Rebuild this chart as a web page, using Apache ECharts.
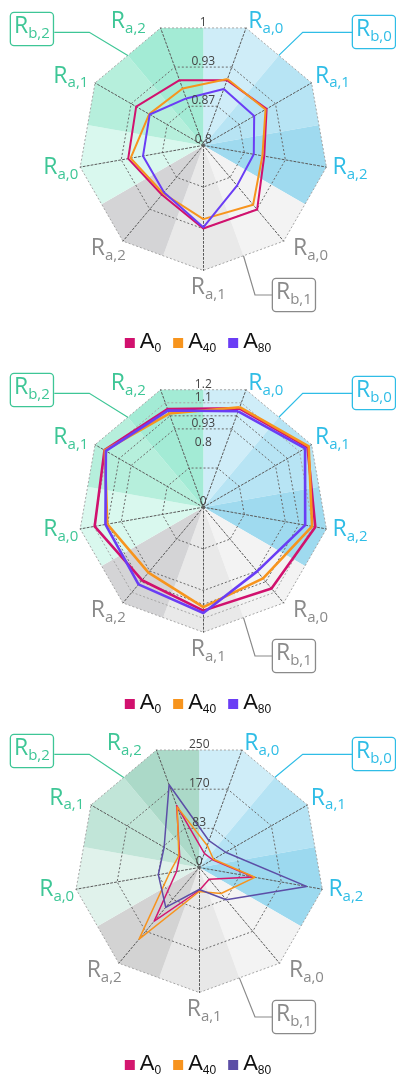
<!DOCTYPE html>
<html>
<head>
<meta charset="utf-8">
<title>Radar comparison</title>
<script src="https://cdn.jsdelivr.net/npm/echarts@6.0.0/dist/echarts.min.js"></script>
<style>
  html, body { margin: 0; padding: 0; background: #ffffff; overflow: hidden; }
  .panel { width: 396px; height: 361px; }
</style>
</head>
<body>
<div id="p1" class="panel"></div>
<div id="p2" class="panel"></div>
<div id="p3" class="panel"></div>
<script>
// Axes listed clockwise from the upper right: three R_a axes in each R_b group
const axisSubs   = ['a,0', 'a,1', 'a,2', 'a,0', 'a,1', 'a,2', 'a,0', 'a,1', 'a,2'];
const axisGroups = [0, 0, 0, 1, 1, 1, 2, 2, 2];
const groupSubs  = ['b,0', 'b,1', 'b,2'];
const seriesNames = ['A0', 'A40', 'A80'];
const seriesSubs  = ['0', '40', '80'];

// Panel 1 (radial scale 0.8 – 1)
const p1A0  = [0.911, 0.917, 0.899, 0.934, 0.933, 0.903, 0.922, 0.924, 0.911];
const p1A40 = [0.913, 0.915, 0.896, 0.924, 0.918, 0.900, 0.918, 0.900, 0.897];
const p1A80 = [0.896, 0.894, 0.882, 0.884, 0.931, 0.898, 0.898, 0.899, 0.880];
const p1Ticks = [0.8, 0.8667, 0.9333, 1];

// Panel 2 (radial scale 0 – 1.2, outer half stretched)
const p2A0  = [1.073, 1.170, 1.128, 1.079, 1.062, 1.010, 1.106, 1.130, 1.069];
const p2A40 = [1.081, 1.179, 1.107, 0.995, 1.040, 0.946, 1.024, 1.128, 1.038];
const p2A80 = [1.053, 1.152, 1.062, 0.936, 1.077, 1.045, 1.036, 1.120, 1.059];
const p2Ticks = [0, 0.8, 0.9333, 1.1111, 1.2];

// Panel 3 (radial scale 0 – 250)
const p3A0  = [30, 31, 110, 31, 46, 140, 46, 45, 132];
const p3A40 = [47, 33, 113, 68, 48, 187, 60, 47, 129];
const p3A80 = [57, 61, 218, 84, 44, 104, 83, 81, 176];
const p3Ticks = [0, 83.33, 166.67, 250];

// ---- layout / style ----
const FONT = "'Open Sans', 'Noto Sans', sans-serif";
const LEGEND_FONT = "'Liberation Sans', Arial, sans-serif";
const R = 125;
const HALF = 20;                                   // half of a 40° sector
const COS_HALF = Math.cos(HALF * Math.PI / 180);   // edge midpoint / vertex radius
const axisAngle = i => 70 - 40 * i;                // math angle of clockwise axis i
const ccw = [0, 8, 7, 6, 5, 4, 3, 2, 1];           // radar lays indicators counterclockwise

// axis-name centre, relative to the polygon vertex it belongs to (px)
const nameOffsets = [[19.8, -4.7], [20.9, -5.4], [23.6, 2.1], [26.9, 9.1], [5, 18.8],
                     [-14.7, 9.1], [-19.4, 2.1], [-24.2, -5.4], [-32.2, -4.7]];

const NONE = 'rgba(0,0,0,0)', DARK = '#6a6a6a', LIGHT = '#a6a6a6';
const labelColors = ['#2fbde6', '#8a8a8a', '#3ec696'];
const wedgesA = ['#cfedf8', '#b7e4f4', '#9fdaef', '#f3f3f3', '#e9e9e9', '#d4d4d6', '#d9f8ee', '#b6efdc', '#a3ebd5'];
const wedgesB = ['#cfedf8', '#b5e3f4', '#9cd9ef', '#f3f3f3', '#e8e8e8', '#d3d3d3', '#e0f2eb', '#c1e5d8', '#abd9c8'];

const callouts = [
  { g: 0, angle: 50,  knee: [302.7, 32.3], end: 353,  box: [353, 16] },
  { g: 1, angle: -70, knee: [255, 295],    end: 273,  box: [273, 279] },
  { g: 2, angle: 130, knee: [89.3, 32.3],  end: 54.3, box: [11, 13] }
];

const p2Radial = v => 9 * (v <= 0.8 ? v / 1.6 : 0.5 + (v - 0.8) * 1.25);

const panels = [
  { el: 'p1', center: [203.3, 145.4], min: 0.8, max: 1, split: 3, map: v => v, ticks: p1Ticks,
    series: [p1A0, p1A40, p1A80], colors: ['#d1116e', '#f7941d', '#6a3df5'], lineWidth: 2,
    rings: [NONE, DARK, DARK, LIGHT], wedges: wedgesA },
  { el: 'p2', center: [203.3, 146.2], min: 0, max: 9, split: 9, map: p2Radial, ticks: p2Ticks,
    series: [p2A0, p2A40, p2A80], colors: ['#d1116e', '#f7941d', '#6a3df5'], lineWidth: 2.6,
    rings: [NONE, NONE, NONE, DARK, NONE, NONE, DARK, DARK, LIGHT, LIGHT], wedges: wedgesA },
  { el: 'p3', center: [199.2, 145.5], min: 0, max: 250, split: 3, map: v => v, ticks: p3Ticks,
    series: [p3A0, p3A40, p3A80], colors: ['#d4176f', '#f7931e', '#5c4ea6'], lineWidth: 1.5,
    rings: [NONE, DARK, DARK, LIGHT], wedges: wedgesB }
];

const tickLabel = t => String(Number(t.toPrecision(2)));

// "R" with a subscript, as zrender rich-text styles
function subRich(color) {
  return {
    R: { fontFamily: FONT, fontSize: 23, lineHeight: 26, verticalAlign: 'top', padding: [0, 0, 7, 0], fill: color },
    s: { fontFamily: FONT, fontSize: 15, lineHeight: 15, verticalAlign: 'bottom', fill: color }
  };
}

function panelOption(cfg) {
  const [cx, cy] = cfg.center;
  const frac = v => (cfg.map(v) - cfg.min) / (cfg.max - cfg.min);

  const graphics = [];
  callouts.forEach(co => {
    const a = co.angle * Math.PI / 180;
    const start = [cx + R * COS_HALF * Math.cos(a), cy - R * COS_HALF * Math.sin(a)];
    const col = labelColors[co.g];
    graphics.push({
      type: 'polyline', silent: true, z: 100,
      shape: { points: [start, co.knee, [co.end, co.knee[1]]] },
      style: { stroke: col, lineWidth: 1.2, fill: null }
    });
    graphics.push({
      type: 'text', silent: true, z: 101, x: co.box[0], y: co.box[1],
      style: {
        text: '{R|R}{s|' + groupSubs[co.g] + '}', rich: subRich(col),
        padding: [2, 3, 4, 3], borderColor: col, borderWidth: 1.3, borderRadius: 3,
        backgroundColor: '#ffffff'
      }
    });
  });

  return {
    animation: false,
    graphic: { elements: graphics },
    legend: {
      top: 326, left: 'center', padding: [5, 5, 5, 5 + 2 * (cx - 198)],
      icon: 'rect', itemWidth: 10, itemHeight: 10, itemGap: 12, selectedMode: false,
      data: seriesNames.map((n, k) => ({ name: n, itemStyle: { color: cfg.colors[k] } })),
      formatter: n => '{A|A}{s|' + seriesSubs[seriesNames.indexOf(n)] + '}',
      textStyle: {
        rich: {
          A: { fontFamily: LEGEND_FONT, fontSize: 22, lineHeight: 24, verticalAlign: 'top', padding: [0, 0, 5, 0], color: '#111' },
          s: { fontFamily: LEGEND_FONT, fontSize: 12, lineHeight: 12, verticalAlign: 'bottom', color: '#111' }
        }
      }
    },
    polar: { center: [cx, cy], radius: R },
    angleAxis: { type: 'value', min: 0, max: 360, startAngle: 0, clockwise: false, show: false },
    radiusAxis: { type: 'value', min: 0, max: 1, show: false },
    radar: {
      center: [cx, cy], radius: R, startAngle: 70, splitNumber: cfg.split, shape: 'polygon', z: 3,
      indicator: ccw.map(i => ({ name: axisSubs[i], min: cfg.min, max: cfg.max })),
      axisName: { show: false },
      axisLine: { lineStyle: { color: '#5a5a5a', width: 1, type: [2, 2] } },
      splitLine: { lineStyle: { color: cfg.rings, width: 1, type: [2, 2] } },
      splitArea: { show: false }
    },
    series: [
      {
        // coloured 40° sectors behind each axis, clipped to the nonagon
        type: 'custom', coordinateSystem: 'polar', z: 1, silent: true,
        data: axisSubs.map((_, i) => ({ value: [1, axisAngle(i)], itemStyle: { color: cfg.wedges[i] } })),
        renderItem: (params, api) => {
          const a = api.value(1);
          return {
            type: 'polygon',
            shape: { points: [api.coord([0, a]), api.coord([COS_HALF, a + HALF]), api.coord([1, a]), api.coord([COS_HALF, a - HALF])] },
            style: { fill: api.visual('color') }
          };
        }
      },
      {
        type: 'radar', radarIndex: 0, z: 4, symbol: 'none', silent: true,
        data: cfg.series.map((arr, k) => ({
          name: seriesNames[k],
          value: ccw.map(i => cfg.map(arr[i])),
          lineStyle: { color: cfg.colors[k], width: cfg.lineWidth },
          itemStyle: { color: cfg.colors[k] }
        }))
      },
      {
        // radial tick labels on the vertical through the centre
        type: 'custom', coordinateSystem: 'polar', z: 5, silent: true,
        data: cfg.ticks.map(t => [frac(t), 90]),
        renderItem: (params, api) => {
          const p = api.coord([api.value(0) * COS_HALF, 90]);
          return {
            type: 'text', x: p[0], y: p[1] - 5.5,
            style: {
              text: tickLabel(cfg.ticks[params.dataIndex]), fill: '#444', fontSize: 12,
              fontFamily: FONT, align: 'center', verticalAlign: 'middle'
            }
          };
        }
      },
      {
        // axis names R_{a,k} next to each polygon vertex
        type: 'custom', coordinateSystem: 'polar', z: 6, silent: true,
        data: axisSubs.map((_, i) => [1, axisAngle(i)]),
        renderItem: (params, api) => {
          const i = params.dataIndex;
          const p = api.coord([api.value(0), api.value(1)]);
          return {
            type: 'text', x: p[0] + nameOffsets[i][0], y: p[1] + nameOffsets[i][1],
            style: {
              text: '{R|R}{s|' + axisSubs[i] + '}', rich: subRich(labelColors[axisGroups[i]]),
              align: 'center', verticalAlign: 'middle'
            }
          };
        }
      }
    ]
  };
}

panels.forEach(cfg => {
  const chart = echarts.init(document.getElementById(cfg.el), null, { renderer: 'canvas' });
  chart.setOption(panelOption(cfg));
});
</script>
</body>
</html>
